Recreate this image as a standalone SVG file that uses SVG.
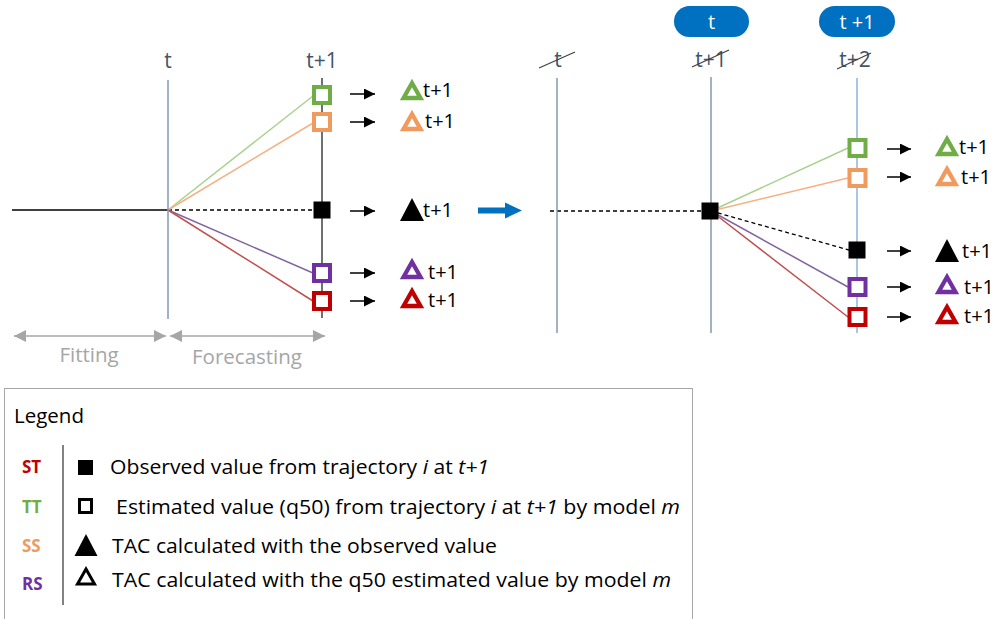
<svg xmlns="http://www.w3.org/2000/svg" width="997" height="619" viewBox="0 0 997 619">
<style>
text{font-family:"Open Sans","Liberation Sans",sans-serif;}
.lbl{font-size:21px;fill:#44546a;text-anchor:middle;}
.tp{font-size:20px;fill:#000;}
.gray{font-size:20.5px;fill:#a6a6a6;text-anchor:middle;}
.pill{fill:#0070c0;}
.pilltxt{font-size:20px;fill:#fff;text-anchor:middle;}
.sq{fill:#fff;stroke-width:4;}
.tri{fill:none;stroke-width:4.3;stroke-linejoin:miter;}
.g{stroke:#70ad47;} .o{stroke:#f09a5e;} .p{stroke:#7030a0;} .r{stroke:#c00000;}
.axis{stroke:#8497b0;stroke-width:1.5;fill:none;}
.small{stroke:#000;stroke-width:1.5;marker-end:url(#ah);}
.leg{font-size:20.5px;fill:#000;}
.code{font-size:17px;font-weight:bold;}
</style>
<defs>
<marker id="ah" markerUnits="userSpaceOnUse" markerWidth="11" markerHeight="11" refX="11" refY="5.5" orient="auto"><path d="M0,0 L11,5.5 L0,11 Z" fill="#000"/></marker>
<marker id="gh" markerUnits="userSpaceOnUse" markerWidth="12" markerHeight="12" refX="12" refY="6" orient="auto-start-reverse"><path d="M0,0 L12,6 L0,12 Z" fill="#a6a6a6"/></marker>
<path id="htri" d="M0,-7 L8.5,8 L-8.5,8 Z"/>
<path id="ftri" d="M0,-12 L12,11 L-12,11 Z"/>
<rect id="hsq" x="-8" y="-8" width="16" height="16"/>
<rect id="fsq" x="-8.5" y="-8.5" width="17" height="17"/>
</defs>

<!-- connectors -->
<g id="connectors">
  <line x1="12" y1="210" x2="168" y2="210" stroke="#000" stroke-width="1.3"/>
  <line x1="168" y1="210" x2="314" y2="210" stroke="#000" stroke-width="1.3" stroke-dasharray="4 3"/>
  <line x1="168" y1="210" x2="313" y2="96" stroke="#a9d18e" stroke-width="1.5"/>
  <line x1="168" y1="210" x2="313" y2="123" stroke="#f4b183" stroke-width="1.5"/>
  <line x1="168" y1="210" x2="313" y2="273" stroke="#8064a2" stroke-width="1.5"/>
  <line x1="168" y1="210" x2="313" y2="301" stroke="#c0504d" stroke-width="1.5"/>
  <line class="small" x1="350" y1="94" x2="375" y2="94"/>
  <line class="small" x1="350" y1="122" x2="375" y2="122"/>
  <line class="small" x1="350" y1="211" x2="375" y2="211"/>
  <line class="small" x1="350" y1="273" x2="375" y2="273"/>
  <line class="small" x1="350" y1="301" x2="375" y2="301"/>
  <line x1="14" y1="336" x2="166" y2="336" stroke="#a6a6a6" stroke-width="1.5" marker-start="url(#gh)" marker-end="url(#gh)"/>
  <line x1="170" y1="336" x2="325" y2="336" stroke="#a6a6a6" stroke-width="1.5" marker-start="url(#gh)" marker-end="url(#gh)"/>
  <path d="M478,207.5 L505,207.5 L505,202.5 L522,210.5 L505,218.5 L505,213.5 L478,213.5 Z" fill="#0070c0"/>
  <line x1="550" y1="211" x2="711" y2="211" stroke="#000" stroke-width="1.3" stroke-dasharray="4 3"/>
  <line x1="711" y1="211" x2="848" y2="148" stroke="#a9d18e" stroke-width="1.5"/>
  <line x1="711" y1="211" x2="848" y2="178" stroke="#f4b183" stroke-width="1.5"/>
  <line x1="711" y1="211" x2="849" y2="250" stroke="#000" stroke-width="1.3" stroke-dasharray="4 3"/>
  <line x1="711" y1="211" x2="848" y2="287" stroke="#8064a2" stroke-width="1.5"/>
  <line x1="711" y1="211" x2="848" y2="317" stroke="#c0504d" stroke-width="1.5"/>
  <line class="small" x1="887" y1="149" x2="911" y2="149"/>
  <line class="small" x1="887" y1="177" x2="911" y2="177"/>
  <line class="small" x1="887" y1="251" x2="911" y2="251"/>
  <line class="small" x1="887" y1="287" x2="911" y2="287"/>
  <line class="small" x1="887" y1="317" x2="911" y2="317"/>
</g>

<g id="left-axis-t">
  <text class="lbl" x="168" y="68">t</text>
  <line class="axis" x1="168" y1="80" x2="168" y2="319"/>
</g>
<g id="left-axis-t1">
  <text class="lbl" x="322" y="68">t+1</text>
  <line x1="322" y1="78" x2="322" y2="318" stroke="#404040" stroke-width="1.5"/>
</g>
<g id="left-green"><use href="#hsq" class="sq g" x="322" y="95"/></g>
<g id="left-orange"><use href="#hsq" class="sq o" x="322" y="122"/></g>
<g id="left-obs"><use href="#fsq" x="322" y="210" fill="#000"/></g>
<g id="left-purple"><use href="#hsq" class="sq p" x="322" y="273"/></g>
<g id="left-red"><use href="#hsq" class="sq r" x="322" y="301"/></g>

<g id="left-tac-green"><use href="#htri" class="tri g" x="412" y="90"/><text class="tp" x="423" y="97">t+1</text></g>
<g id="left-tac-orange"><use href="#htri" class="tri o" x="412" y="121"/><text class="tp" x="425" y="128">t+1</text></g>
<g id="left-tac-obs"><use href="#ftri" x="412" y="210" fill="#000"/><text class="tp" x="423" y="217">t+1</text></g>
<g id="left-tac-purple"><use href="#htri" class="tri p" x="412" y="269"/><text class="tp" x="428" y="279">t+1</text></g>
<g id="left-tac-red"><use href="#htri" class="tri r" x="412" y="298"/><text class="tp" x="428" y="307">t+1</text></g>

<g id="fitting"><text class="gray" x="89" y="362">Fitting</text></g>
<g id="forecasting"><text class="gray" x="247" y="364">Forecasting</text></g>

<g id="pill-t"><rect class="pill" x="674" y="6" width="75" height="31" rx="15.5"/><text class="pilltxt" x="711.5" y="29">t</text></g>
<g id="pill-t1"><rect class="pill" x="819" y="6" width="76" height="31" rx="15.5"/><text class="pilltxt" x="857" y="29">t +1</text></g>

<g id="right-axis-t">
  <text class="lbl" x="558" y="67">t</text>
  <line x1="539" y1="68" x2="575" y2="52" stroke="#404040" stroke-width="1.2"/>
  <line class="axis" x1="557" y1="78" x2="557" y2="333"/>
</g>
<g id="right-axis-t1">
  <text class="lbl" x="711" y="67">t+1</text>
  <line x1="692" y1="67" x2="729" y2="50" stroke="#404040" stroke-width="1.2"/>
  <line class="axis" x1="711" y1="77" x2="711" y2="333"/>
</g>
<g id="right-axis-t2">
  <text class="lbl" x="855" y="67">t+2</text>
  <line x1="837" y1="69" x2="871" y2="53" stroke="#404040" stroke-width="1.2"/>
  <line x1="857" y1="78" x2="857" y2="333" stroke="#8db3d9" stroke-width="1.5"/>
</g>
<g id="right-obs-t1"><use href="#fsq" x="710" y="211" fill="#000"/></g>
<g id="right-green"><use href="#hsq" class="sq g" x="857.5" y="148"/></g>
<g id="right-orange"><use href="#hsq" class="sq o" x="857.5" y="178"/></g>
<g id="right-obs"><use href="#fsq" x="857" y="250" fill="#000"/></g>
<g id="right-purple"><use href="#hsq" class="sq p" x="857.5" y="287"/></g>
<g id="right-red"><use href="#hsq" class="sq r" x="857.5" y="317"/></g>

<g id="right-tac-green"><use href="#htri" class="tri g" x="947" y="146"/><text class="tp" x="959" y="154">t+1</text></g>
<g id="right-tac-orange"><use href="#htri" class="tri o" x="947" y="176"/><text class="tp" x="961" y="184">t+1</text></g>
<g id="right-tac-obs"><use href="#ftri" x="947" y="251" fill="#000"/><text class="tp" x="962" y="258">t+1</text></g>
<g id="right-tac-purple"><use href="#htri" class="tri p" x="947" y="284"/><text class="tp" x="964" y="294">t+1</text></g>
<g id="right-tac-red"><use href="#htri" class="tri r" x="947" y="314"/><text class="tp" x="964" y="323">t+1</text></g>

<g id="legend">
  <rect x="4.5" y="388.5" width="688" height="240" fill="none" stroke="#a6a6a6" stroke-width="1"/>
  <text class="leg" x="14" y="423" font-size="21">Legend</text>
  <line x1="63" y1="445" x2="63" y2="605" stroke="#404040" stroke-width="1.3"/>
  <text class="code" x="22" y="473" fill="#c00000">ST</text>
  <text class="code" x="22" y="513" fill="#70ad47">TT</text>
  <text class="code" x="22" y="552" fill="#f09a5e">SS</text>
  <text class="code" x="22" y="590" fill="#7030a0">RS</text>
  <rect x="78" y="460" width="15" height="15" fill="#000"/>
  <rect x="79.5" y="499.5" width="12" height="13" fill="#fff" stroke="#000" stroke-width="3"/>
  <path d="M86,534 L97.5,556 L74.5,556 Z" fill="#000"/>
  <path d="M86,569 L94.5,584 L77.5,584 Z" fill="none" stroke="#000" stroke-width="3"/>
  <text class="leg" x="110" y="474" textLength="379" lengthAdjust="spacingAndGlyphs">Observed value from trajectory <tspan font-style="italic">i</tspan> at <tspan font-style="italic">t+1</tspan></text>
  <text class="leg" x="116" y="514" textLength="564" lengthAdjust="spacingAndGlyphs">Estimated value (q50) from trajectory <tspan font-style="italic">i</tspan> at <tspan font-style="italic">t+1</tspan> by model <tspan font-style="italic">m</tspan></text>
  <text class="leg" x="112" y="553" textLength="385" lengthAdjust="spacingAndGlyphs">TAC calculated with the observed value</text>
  <text class="leg" x="112" y="587" textLength="559" lengthAdjust="spacingAndGlyphs">TAC calculated with the q50 estimated value by model <tspan font-style="italic">m</tspan></text>
</g>
</svg>
